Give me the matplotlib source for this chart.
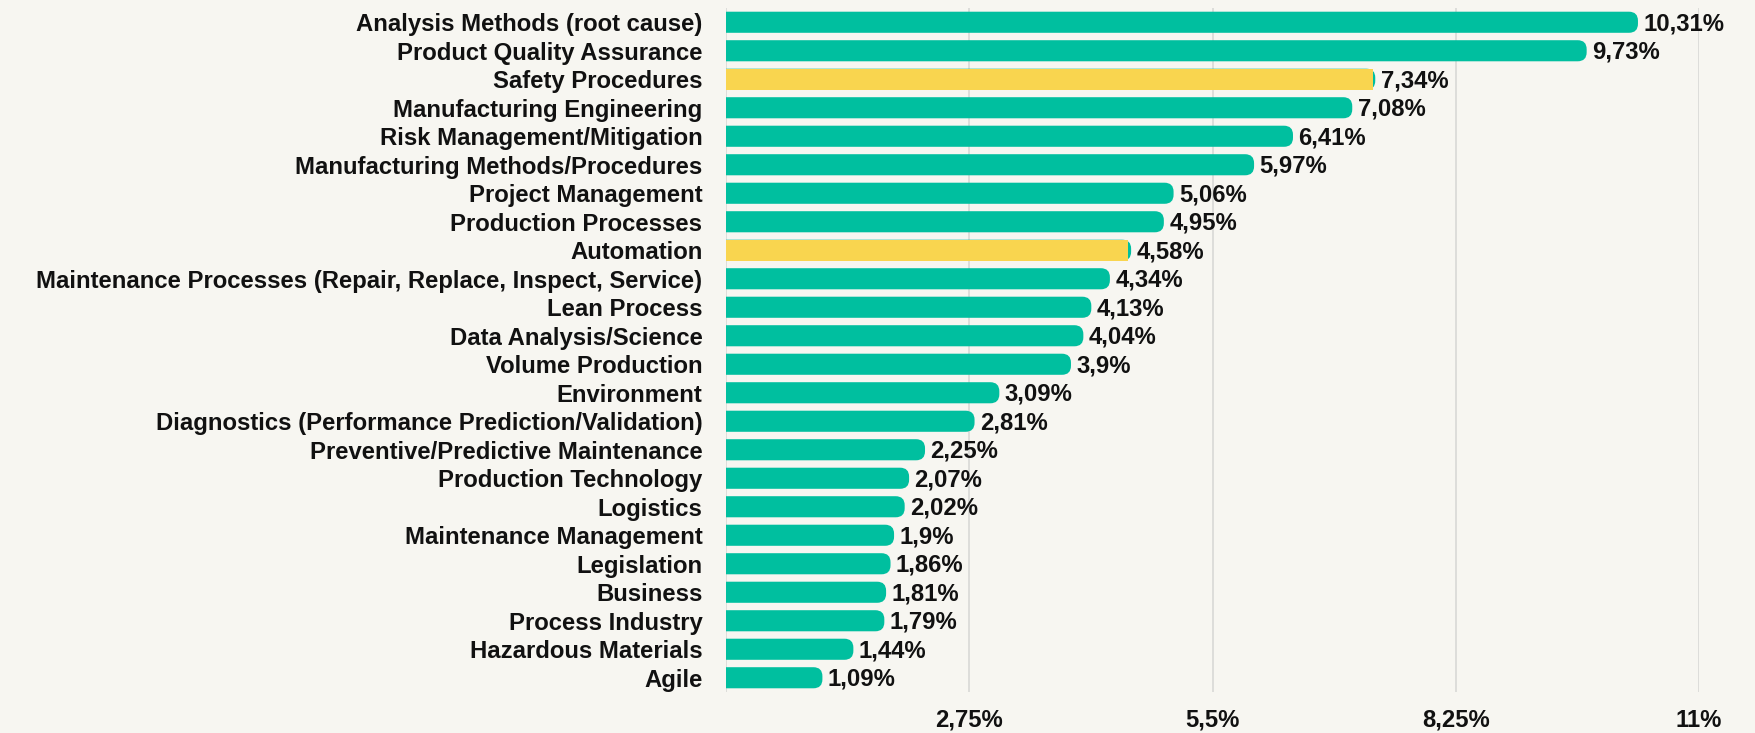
import matplotlib
matplotlib.use('Agg')
import matplotlib.pyplot as plt
from matplotlib.patches import FancyBboxPatch

categories = [
    'Analysis Methods (root cause)',
    'Product Quality Assurance',
    'Safety Procedures',
    'Manufacturing Engineering',
    'Risk Management/Mitigation',
    'Manufacturing Methods/Procedures',
    'Project Management',
    'Production Processes',
    'Automation',
    'Maintenance Processes (Repair, Replace, Inspect, Service)',
    'Lean Process',
    'Data Analysis/Science',
    'Volume Production',
    'Environment',
    'Diagnostics (Performance Prediction/Validation)',
    'Preventive/Predictive Maintenance',
    'Production Technology',
    'Logistics',
    'Maintenance Management',
    'Legislation',
    'Business',
    'Process Industry',
    'Hazardous Materials',
    'Agile',
]
values = [10.31, 9.73, 7.34, 7.08, 6.41, 5.97, 5.06, 4.95, 4.58, 4.34, 4.13, 4.04,
          3.9, 3.09, 2.81, 2.25, 2.07, 2.02, 1.9, 1.86, 1.81, 1.79, 1.44, 1.09]
highlighted = ['Safety Procedures', 'Automation']
xticks = [2.75, 5.5, 8.25, 11]

GREEN = '#00bf9f'
YELLOW = '#f9d54f'
BG = '#f7f6f1'
GRID = '#d8d8d6'
FS = 17.2

plt.rcParams['font.family'] = ['Liberation Sans', 'DejaVu Sans']
plt.rcParams['font.weight'] = 'bold'

W, H = 1756, 733
fig = plt.figure(figsize=(W / 100, H / 100), dpi=100, facecolor=BG)
x0, x1 = 726, 1699
y0, y1 = 8, 692
ax = fig.add_axes([x0 / W, 1 - y1 / H, (x1 - x0) / W, (y1 - y0) / H])
ax.set_facecolor(BG)

n = len(categories)
ax.set_xlim(0, 11)
ax.set_ylim(n - 0.5, -0.5)

# pixel scale, for round ends
px_x = (x1 - x0) / 11
px_y = (y1 - y0) / n
r_px = 9
bar_h = 0.74

for i, (cat, v) in enumerate(zip(categories, values)):
    p = FancyBboxPatch((-1, i - bar_h / 2), v + 1, bar_h,
                       boxstyle='round,pad=0,rounding_size=%f' % (r_px / px_x),
                       mutation_aspect=px_x / px_y,
                       facecolor=GREEN, edgecolor='none', zorder=3)
    ax.add_patch(p)
    if cat in highlighted:
        ax.barh(i, v - 0.03, height=bar_h, color=YELLOW, zorder=4)
    ax.text(v + 0.06, i + 0.06, f'{v:g}'.replace('.', ',') + '%',
            va='center', ha='left', fontsize=FS, fontweight='bold',
            color='#111111', zorder=5)

ax.set_yticks(range(n))
ax.set_yticklabels(categories, fontsize=FS, fontweight='bold', color='#111111')
ax.set_xticks([0] + xticks)
ax.set_xticklabels([''] + [f'{t:g}'.replace('.', ',') + '%' for t in xticks],
                   fontsize=FS, fontweight='bold', color='#111111')
ax.tick_params(axis='y', length=0, pad=17)
ax.tick_params(axis='x', length=0, pad=12)
ax.grid(axis='x', color=GRID, linewidth=1.2, zorder=0)
ax.set_axisbelow(True)
for s in ax.spines.values():
    s.set_visible(False)

fig.savefig('out.png', dpi=100, facecolor=BG)
